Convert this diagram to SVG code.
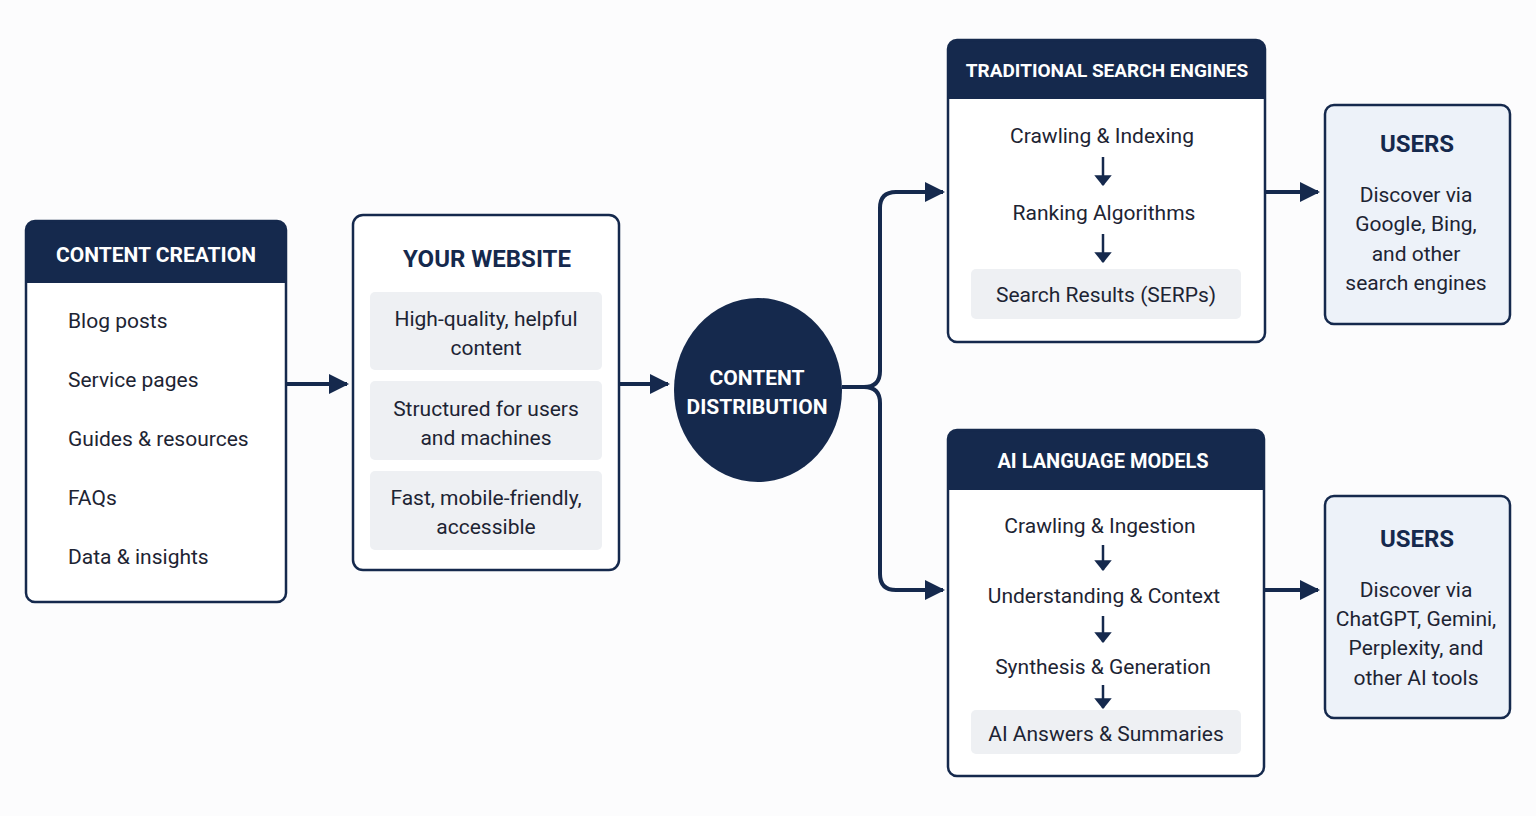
<svg xmlns="http://www.w3.org/2000/svg" width="1536" height="816" viewBox="0 0 1536 816">
<defs>
<marker id="ah" viewBox="0 0 10 10" refX="9" refY="5" markerWidth="5" markerHeight="5" orient="auto" markerUnits="strokeWidth"><path d="M0,0 L10,5 L0,10 z" fill="#15294d"/></marker>
<marker id="sh" viewBox="0 0 10 16" refX="9" refY="8" markerWidth="4.4" markerHeight="7" orient="auto" markerUnits="strokeWidth"><path d="M0,0 L10,8 L0,16 z" fill="#15294d"/></marker>
<clipPath id="c1"><rect x="26" y="221" width="260" height="381" rx="9"/></clipPath>
<clipPath id="c2"><rect x="948" y="40" width="317" height="302" rx="9"/></clipPath>
<clipPath id="c3"><rect x="948" y="430" width="316" height="346" rx="9"/></clipPath>
</defs>
<style>
.box{fill:#fff;stroke:#15294d;stroke-width:2.5}
.ubox{fill:#edf2f9;stroke:#15294d;stroke-width:2.5}
.hdr{fill:#15294d}
.sub{fill:#eef0f3}
.t{font-family:Roboto,"Liberation Sans",sans-serif;font-size:21px;fill:#1d2433}
.c{text-anchor:middle}
.h{font-family:Roboto,"Liberation Sans",sans-serif;font-weight:bold;font-size:21px;fill:#fff;text-anchor:middle}
.hn{font-family:Roboto,"Liberation Sans",sans-serif;font-weight:bold;font-size:24px;fill:#15294d;text-anchor:middle}
.ln{fill:none;stroke:#15294d;stroke-width:4}
.sa{fill:none;stroke:#15294d;stroke-width:2.5}
</style>
<rect width="1536" height="816" fill="#fcfcfd"/>

<g id="content-creation">
<rect x="26" y="221" width="260" height="381" rx="9" fill="#fff"/>
<rect x="26" y="221" width="260" height="62" class="hdr" clip-path="url(#c1)"/>
<rect x="26" y="221" width="260" height="381" rx="9" class="box" style="fill:none"/>
<text x="156" y="262" class="h">CONTENT CREATION</text>
<text x="68" y="328" class="t">Blog posts</text>
<text x="68" y="387" class="t">Service pages</text>
<text x="68" y="446" class="t">Guides &amp; resources</text>
<text x="68" y="505" class="t">FAQs</text>
<text x="68" y="564" class="t">Data &amp; insights</text>
</g>

<g id="your-website">
<rect x="353" y="215" width="266" height="355" rx="10" class="box"/>
<text x="487" y="267" class="hn">YOUR WEBSITE</text>
<rect x="370" y="292" width="232" height="78" rx="5" class="sub"/>
<rect x="370" y="381" width="232" height="79" rx="5" class="sub"/>
<rect x="370" y="471" width="232" height="79" rx="5" class="sub"/>
<text x="486" y="326" class="t c">High-quality, helpful</text>
<text x="486" y="355" class="t c">content</text>
<text x="486" y="416" class="t c">Structured for users</text>
<text x="486" y="445" class="t c">and machines</text>
<text x="486" y="505" class="t c">Fast, mobile-friendly,</text>
<text x="486" y="534" class="t c">accessible</text>
</g>

<g id="content-distribution">
<ellipse cx="758" cy="390" rx="84" ry="92" fill="#15294d"/>
<text x="757" y="385" class="h" style="font-size:21px">CONTENT</text>
<text x="757" y="414" class="h" style="font-size:21px">DISTRIBUTION</text>
</g>

<g id="traditional-search">
<rect x="948" y="40" width="317" height="302" rx="9" fill="#fff"/>
<rect x="948" y="40" width="317" height="59" class="hdr" clip-path="url(#c2)"/>
<rect x="948" y="40" width="317" height="302" rx="9" class="box" style="fill:none"/>
<text x="1107" y="77" class="h" style="font-size:19px">TRADITIONAL SEARCH ENGINES</text>
<text x="1102" y="143" class="t c">Crawling &amp; Indexing</text>
<line x1="1103" y1="157" x2="1103" y2="185" class="sa" marker-end="url(#sh)"/>
<text x="1104" y="220" class="t c">Ranking Algorithms</text>
<line x1="1103" y1="234" x2="1103" y2="262" class="sa" marker-end="url(#sh)"/>
<rect x="971" y="269" width="270" height="50" rx="5" class="sub"/>
<text x="1106" y="302" class="t c">Search Results (SERPs)</text>
</g>

<g id="ai-models">
<rect x="948" y="430" width="316" height="346" rx="9" fill="#fff"/>
<rect x="948" y="430" width="316" height="60" class="hdr" clip-path="url(#c3)"/>
<rect x="948" y="430" width="316" height="346" rx="9" class="box" style="fill:none"/>
<text x="1103" y="468" class="h" style="font-size:20px">AI LANGUAGE MODELS</text>
<text x="1100" y="533" class="t c">Crawling &amp; Ingestion</text>
<line x1="1103" y1="545" x2="1103" y2="570" class="sa" marker-end="url(#sh)"/>
<text x="1104" y="603" class="t c">Understanding &amp; Context</text>
<line x1="1103" y1="616" x2="1103" y2="642" class="sa" marker-end="url(#sh)"/>
<text x="1103" y="674" class="t c">Synthesis &amp; Generation</text>
<line x1="1103" y1="685" x2="1103" y2="708" class="sa" marker-end="url(#sh)"/>
<rect x="971" y="710" width="270" height="44" rx="5" class="sub"/>
<text x="1106" y="741" class="t c">AI Answers &amp; Summaries</text>
</g>

<g id="users-search">
<rect x="1325" y="105" width="185" height="219" rx="9" class="ubox"/>
<text x="1417" y="152" class="hn">USERS</text>
<text x="1416" y="202" class="t c">Discover via</text>
<text x="1416" y="231" class="t c">Google, Bing,</text>
<text x="1416" y="261" class="t c">and other</text>
<text x="1416" y="290" class="t c">search engines</text>
</g>

<g id="users-ai">
<rect x="1325" y="496" width="185" height="222" rx="9" class="ubox"/>
<text x="1417" y="547" class="hn">USERS</text>
<text x="1416" y="597" class="t c">Discover via</text>
<text x="1416" y="626" class="t c">ChatGPT, Gemini,</text>
<text x="1416" y="655" class="t c">Perplexity, and</text>
<text x="1416" y="685" class="t c">other AI tools</text>
</g>

<g id="connectors">
<line x1="286" y1="384" x2="347" y2="384" class="ln" marker-end="url(#ah)"/>
<line x1="619" y1="384" x2="668" y2="384" class="ln" marker-end="url(#ah)"/>
<path d="M842,387 H864 Q880,387 880,371 V208 Q880,192 896,192 H943" class="ln" marker-end="url(#ah)"/>
<path d="M864,387 Q880,387 880,403 V574 Q880,590 896,590 H943" class="ln" marker-end="url(#ah)"/>
<line x1="1265" y1="192" x2="1318" y2="192" class="ln" marker-end="url(#ah)"/>
<line x1="1264" y1="590" x2="1318" y2="590" class="ln" marker-end="url(#ah)"/>
</g>
</svg>
